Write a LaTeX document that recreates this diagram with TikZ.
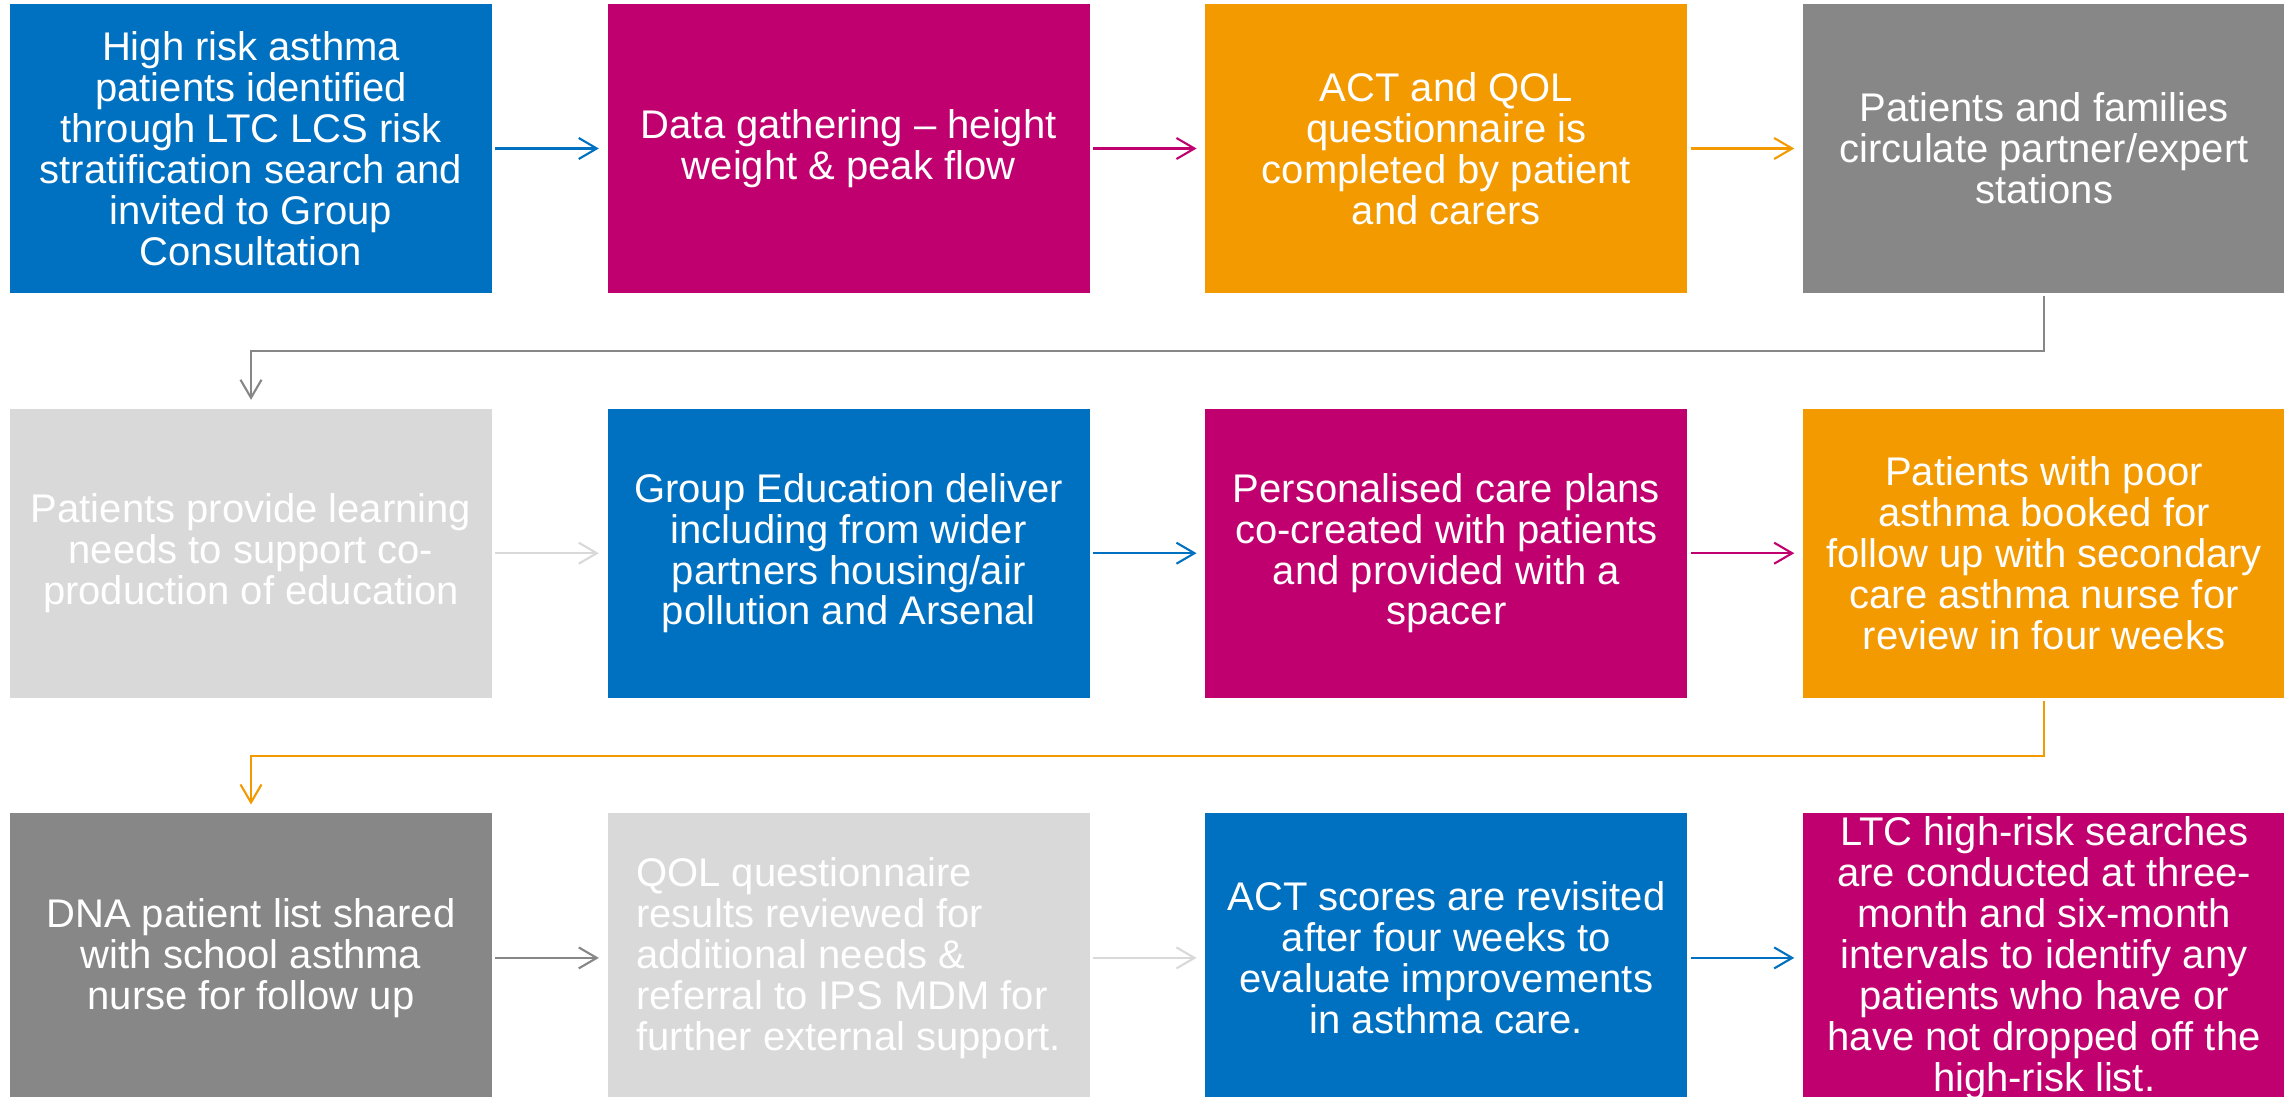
\documentclass[tikz,border=0pt]{standalone}
\usepackage{fontspec}
\setmainfont{Liberation Sans}
\usepackage{tikz}
\usetikzlibrary{positioning,arrows.meta}

\definecolor{cblue}{HTML}{0070C0}
\definecolor{cmagenta}{HTML}{C0006F}
\definecolor{corange}{HTML}{F39A00}
\definecolor{cgrey}{HTML}{878787}
\definecolor{clight}{HTML}{D9D9D9}

\begin{document}
\begin{tikzpicture}[node distance=2.3cm, >={Straight Barb[length=0.36cm,width=0.42cm]},
    block/.style={rectangle, fill=#1, text=white, minimum width=9.64cm, minimum height=5.78cm, inner sep=0pt, align=center, font=\fontsize{22.76}{23.3}\selectfont},
    arrow/.style={->, draw=#1, line width=1.2pt, shorten <=0.06cm, shorten >=0.17cm}]
    \useasboundingbox (0,0) rectangle (45.68,-21.94);

    % first row
    \node[block=cblue] (ident) at (5.02,-2.97) {High risk asthma\\patients identified\\through LTC LCS risk\\stratification search and\\invited to Group\\Consultation};
    \node[block=cmagenta, right=of ident] (data) {Data gathering – height\\weight \& peak flow};
    \node[block=corange, right=of data] (actq) {ACT and QOL\\questionnaire is\\completed by patient\\and carers};
    \node[block=cgrey, right=of actq] (stat) {Patients and families\\circulate partner/expert\\stations};

    % second row
    \node[block=clight, below=of ident] (needs) {Patients provide learning\\needs to support co-\\production of education};
    \node[block=cblue, right=of needs] (edu) {Group Education deliver\\including from wider\\partners housing/air\\pollution and Arsenal};
    \node[block=cmagenta, right=of edu] (plans) {Personalised care plans\\co-created with patients\\and provided with a\\spacer};
    \node[block=corange, right=of plans] (follow) {Patients with poor\\asthma booked for\\follow up with secondary\\care asthma nurse for\\review in four weeks};

    % third row
    \node[block=cgrey, below=of needs] (dna) {DNA patient list shared\\with school asthma\\nurse for follow up};
    \node[block=clight, right=of dna, align=left] (qolr) {QOL questionnaire\\results reviewed for\\additional needs \&\\referral to IPS MDM for\\further external support.};
    \node[block=cblue, right=of qolr] (actr) {ACT scores are revisited\\after four weeks to\\evaluate improvements\\in asthma care.};
    \node[block=cmagenta, right=of actr] (ltc) {LTC high-risk searches\\are conducted at three-\\month and six-month\\intervals to identify any\\patients who have or\\have not dropped off the\\high-risk list.};

    \draw[arrow=cblue] (ident) -- (data);
    \draw[arrow=cmagenta] (data) -- (actq);
    \draw[arrow=corange] (actq) -- (stat);
    \draw[arrow=cgrey] (stat.south) -- ++(0,-1.15) -| (needs.north);

    \draw[arrow=clight] (needs) -- (edu);
    \draw[arrow=cblue] (edu) -- (plans);
    \draw[arrow=cmagenta] (plans) -- (follow);
    \draw[arrow=corange] (follow.south) -- ++(0,-1.15) -| (dna.north);

    \draw[arrow=cgrey] (dna) -- (qolr);
    \draw[arrow=clight] (qolr) -- (actr);
    \draw[arrow=cblue] (actr) -- (ltc);
\end{tikzpicture}
\end{document}
